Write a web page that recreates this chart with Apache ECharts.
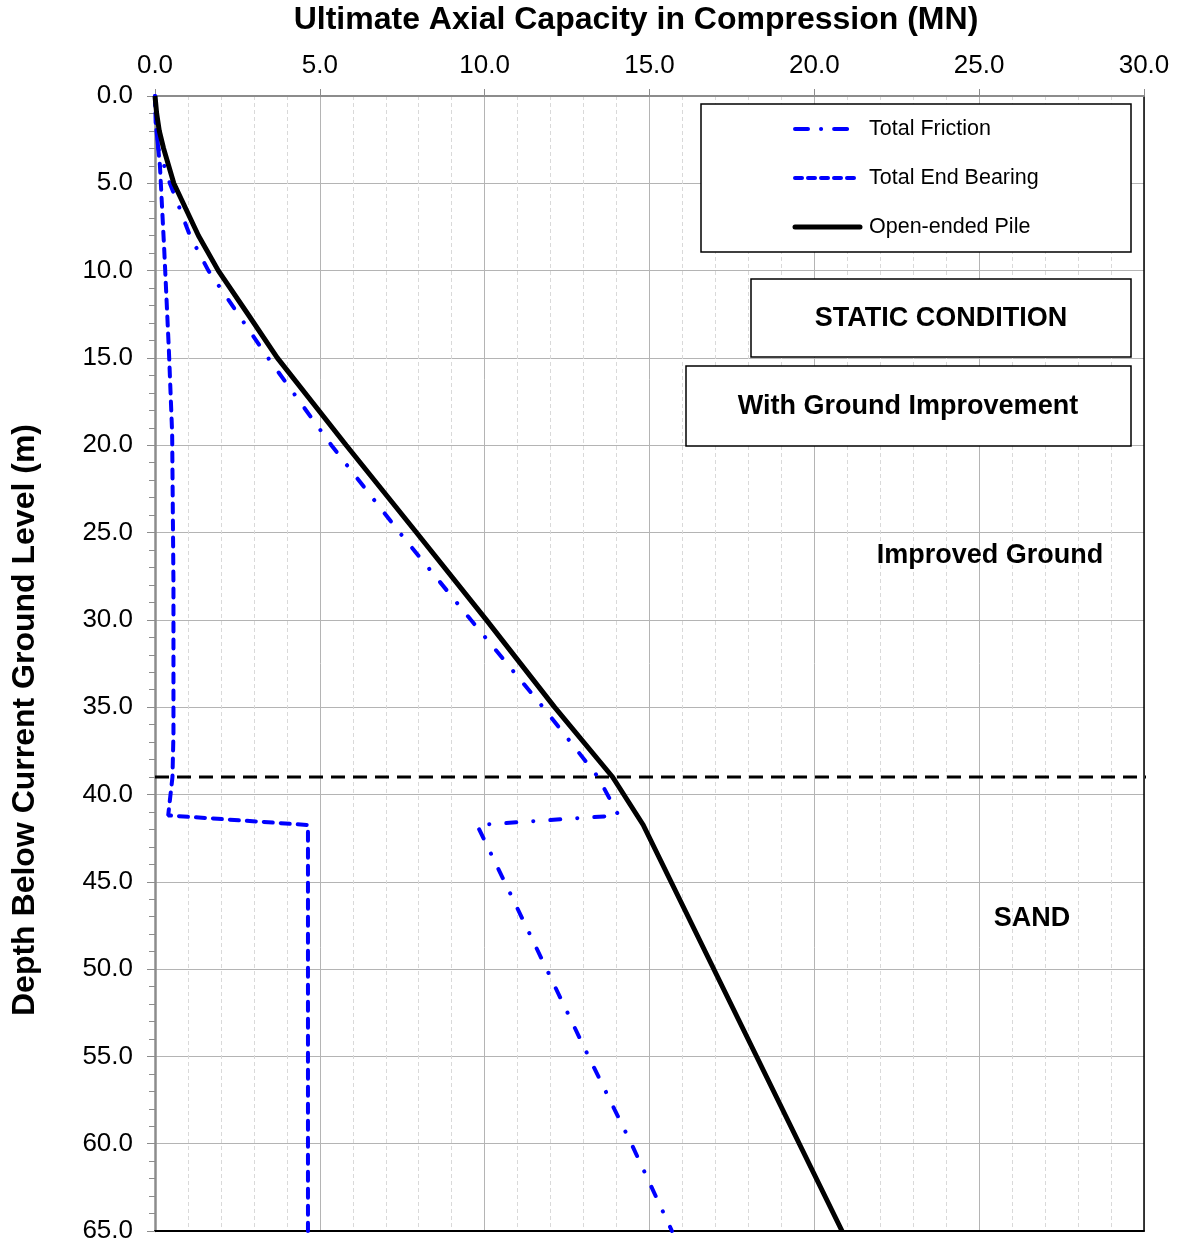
<!DOCTYPE html>
<html>
<head>
<meta charset="utf-8">
<style>html,body{margin:0;padding:0;background:#fff}#c{width:1178px;height:1245px}</style>
<script src="https://cdn.jsdelivr.net/npm/echarts@6/dist/echarts.min.js"></script>
</head>
<body>
<div id="c"></div>
<script>
// ---- data (x = capacity MN, y = depth m) ----
const pileDepth = [0, 1, 2, 3, 5, 8, 10, 12.5, 15, 20, 25, 30, 35, 39, 41.75, 65];
const pileCap   = [0, 0.05, 0.13, 0.26, 0.57, 1.32, 1.92, 2.82, 3.71, 5.8, 7.93, 10.05, 12.12, 13.88, 14.81, 20.84];

const frictionDepth = [0, 1.5, 3, 4, 5, 6.4, 8, 10, 15, 20, 25, 30, 35, 39, 41.2, 41.75, 46, 55, 60, 65];
const friction      = [0, 0.02, 0.1, 0.28, 0.45, 0.74, 1.06, 1.62, 3.43, 5.35, 7.42, 9.58, 11.77, 13.44, 14.06, 9.77, 10.86, 13.15, 14.45, 15.68];

const bearingDepth = [0, 1.5, 4, 7.7, 8.8, 14.5, 19.3, 28, 36.5, 39, 41.2, 41.75, 65];
const bearing      = [0, 0.02, 0.15, 0.25, 0.28, 0.42, 0.52, 0.56, 0.56, 0.53, 0.40, 4.64, 4.64];

const layerDepth = 39.0;
const layerX = [0, 31];

const xTicks = [0, 5, 10, 15, 20, 25, 30];
const yTicks = [0, 5, 10, 15, 20, 25, 30, 35, 40, 45, 50, 55, 60, 65];

const seriesNames = ['Total Friction', 'Total End Bearing', 'Open-ended Pile'];

const zip = (xs, ys) => xs.map((x, i) => [x, ys[i]]);

const FONT = '"Liberation Sans", Arial, sans-serif';
const BLUE = '#0000ff';
const frictionDash = [10, 17, 0.1, 17];
const bearingDash = [9, 8];

const chart = echarts.init(document.getElementById('c'), null, {renderer: 'canvas'});

// legend drawn as a framed box (matches the spreadsheet-style legend)
const legendBox = {x: 701, y: 104, w: 430, h: 148};
const legendRows = [129, 178, 227];
const legendStyles = [
  {stroke: BLUE, lineWidth: 4, lineDash: [13, 13, 0.1, 13], lineCap: 'round'},
  {stroke: BLUE, lineWidth: 4, lineDash: [7, 6], lineCap: 'round'},
  {stroke: '#000', lineWidth: 5, lineCap: 'round'}
];
const legendGraphics = [
  {type: 'rect', shape: {x: legendBox.x, y: legendBox.y, width: legendBox.w, height: legendBox.h},
    style: {fill: '#fff', stroke: '#000', lineWidth: 1.5}, z: 10}
];
seriesNames.forEach((n, i) => {
  legendGraphics.push({type: 'line', z: 11,
    shape: {x1: 795, y1: legendRows[i], x2: 860, y2: legendRows[i]}, style: legendStyles[i]});
  legendGraphics.push({type: 'text', x: 869, y: legendRows[i], z: 11,
    style: {text: n, fill: '#000', font: '21.5px ' + FONT, verticalAlign: 'middle'}});
});

chart.setOption({
  animation: false,
  backgroundColor: '#fff',
  grid: {left: 155, top: 96, right: 34, bottom: 14, containLabel: false},
  xAxis: [{
    type: 'value', position: 'top', min: xTicks[0], max: xTicks[xTicks.length - 1], interval: 5,
    axisLine: {show: true, onZero: false, lineStyle: {color: '#8c8c8c', width: 2}},
    axisTick: {show: true, inside: false, length: 7, lineStyle: {color: '#8c8c8c', width: 1}},
    axisLabel: {margin: 17, color: '#000', fontSize: 26, fontFamily: FONT,
      formatter: v => v.toFixed(1)},
    splitLine: {show: true, lineStyle: {color: '#b4b4b4', width: 1}},
    minorTick: {show: false, splitNumber: 5},
    minorSplitLine: {show: true, lineStyle: {color: '#d9d9d9', width: 1, type: [4, 3]}}
  }, {
    type: 'value', position: 'bottom', min: 0, max: 30, interval: 5,
    axisLine: {show: true, onZero: false, lineStyle: {color: '#000', width: 2}},
    axisTick: {show: false}, axisLabel: {show: false}, splitLine: {show: false}
  }],
  yAxis: [{
    type: 'value', inverse: true, min: yTicks[0], max: yTicks[yTicks.length - 1], interval: 5,
    axisLine: {show: true, onZero: false, lineStyle: {color: '#8c8c8c', width: 2.5}},
    axisTick: {show: true, inside: false, length: 8, lineStyle: {color: '#8c8c8c', width: 1}},
    minorTick: {show: true, splitNumber: 5, length: 6, lineStyle: {color: '#8c8c8c', width: 1}},
    axisLabel: {margin: 22, color: '#000', fontSize: 26, fontFamily: FONT,
      formatter: v => v.toFixed(1)},
    splitLine: {show: true, lineStyle: {color: '#b4b4b4', width: 1}},
    minorSplitLine: {show: false}
  }, {
    type: 'value', inverse: true, position: 'right', min: 0, max: 65, interval: 5,
    axisLine: {show: true, onZero: false, lineStyle: {color: '#000', width: 1.5}},
    axisTick: {show: false}, axisLabel: {show: false}, splitLine: {show: false}
  }],
  graphic: legendGraphics.concat([
    {type: 'text', x: 636, y: 20, style: {
      text: 'Ultimate Axial Capacity in Compression (MN)', fill: '#000',
      font: 'bold 32px ' + FONT, align: 'center', verticalAlign: 'middle'}},
    {type: 'text', x: 25, y: 720, rotation: Math.PI / 2, style: {
      text: 'Depth Below Current Ground Level (m)', fill: '#000',
      font: 'bold 32px ' + FONT, align: 'center', verticalAlign: 'middle'}},
    {type: 'rect', shape: {x: 751, y: 279, width: 380, height: 78},
      style: {fill: '#fff', stroke: '#000', lineWidth: 1.5}, z: 10},
    {type: 'text', x: 941, y: 319, z: 11, style: {text: 'STATIC CONDITION', fill: '#000',
      font: 'bold 27px ' + FONT, align: 'center', verticalAlign: 'middle'}},
    {type: 'rect', shape: {x: 686, y: 366, width: 445, height: 80},
      style: {fill: '#fff', stroke: '#000', lineWidth: 1.5}, z: 10},
    {type: 'text', x: 908, y: 407, z: 11, style: {text: 'With Ground Improvement', fill: '#000',
      font: 'bold 27px ' + FONT, align: 'center', verticalAlign: 'middle'}},
    {type: 'text', x: 990, y: 556, z: 11, style: {text: 'Improved Ground', fill: '#000',
      font: 'bold 27px ' + FONT, align: 'center', verticalAlign: 'middle'}},
    {type: 'text', x: 1032, y: 919, z: 11, style: {text: 'SAND', fill: '#000',
      font: 'bold 27px ' + FONT, align: 'center', verticalAlign: 'middle'}}
  ]),
  series: [
    {
      name: 'Layer boundary', type: 'line', clip: false, showSymbol: false, symbol: 'none',
      data: layerX.map(x => [x, layerDepth]), silent: true,
      lineStyle: {color: '#000', width: 3, type: [14, 8]}, z: 3
    },
    {
      name: seriesNames[0], type: 'line', showSymbol: false, symbol: 'none',
      data: zip(friction, frictionDepth),
      lineStyle: {color: BLUE, width: 4, type: frictionDash, cap: 'round'}, z: 4
    },
    {
      name: seriesNames[1], type: 'line', showSymbol: false, symbol: 'none',
      data: zip(bearing, bearingDepth),
      lineStyle: {color: BLUE, width: 4, type: bearingDash, cap: 'round'}, z: 4
    },
    {
      name: seriesNames[2], type: 'line', showSymbol: false, symbol: 'none',
      data: zip(pileCap, pileDepth),
      lineStyle: {color: '#000', width: 5}, z: 5
    }
  ]
});
</script>
</body>
</html>
